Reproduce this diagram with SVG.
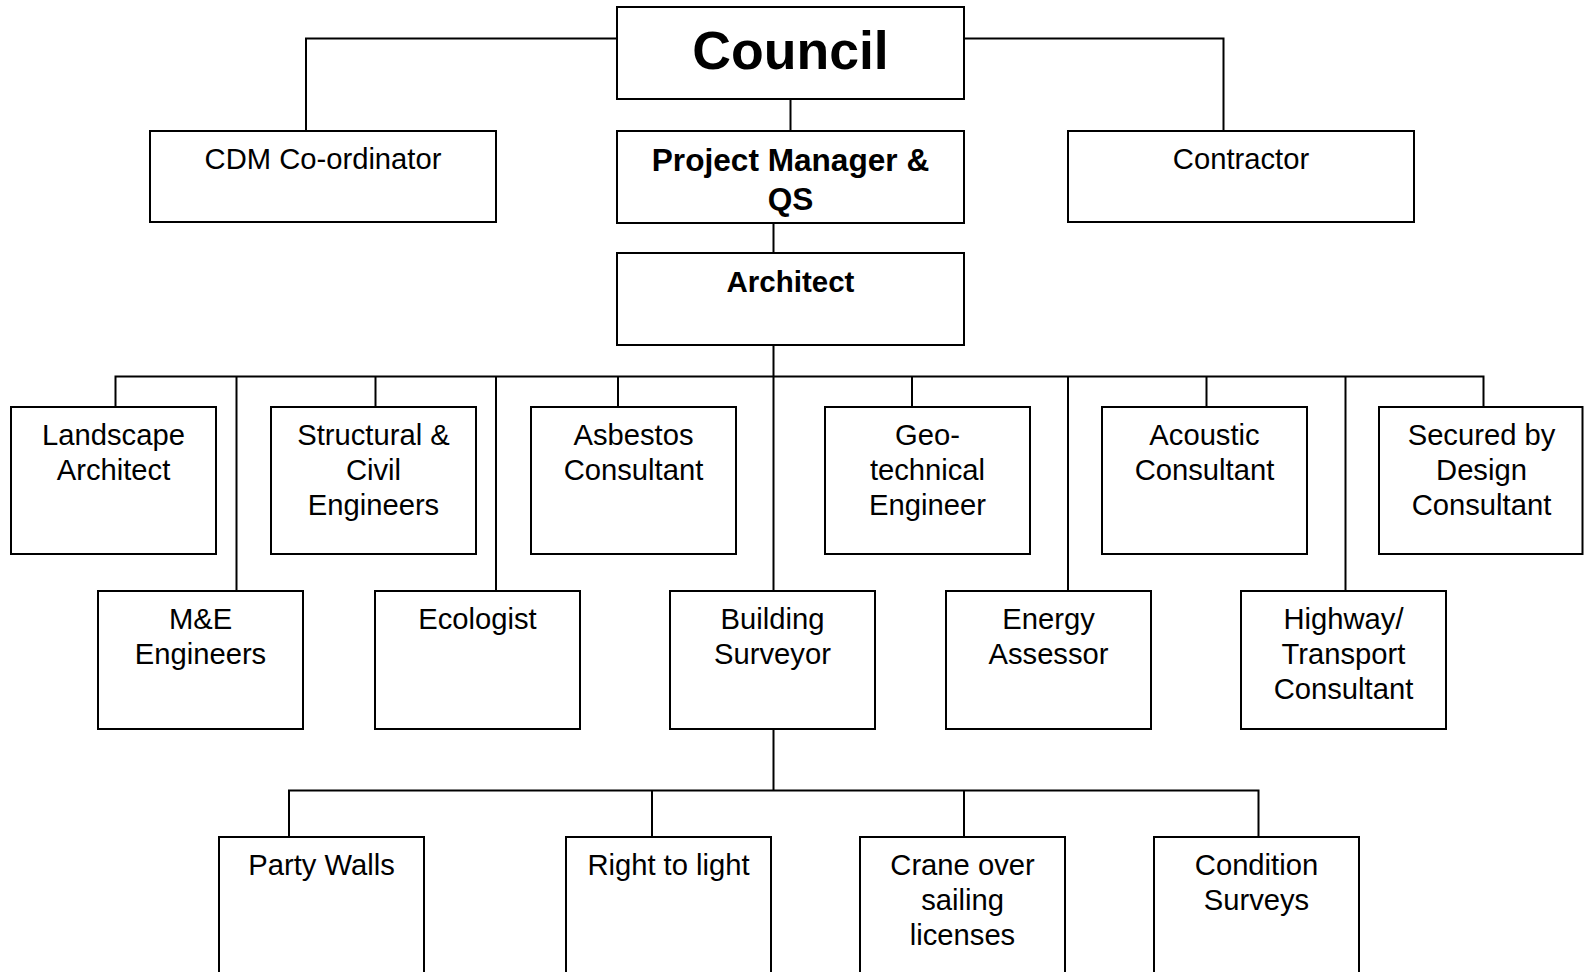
<svg xmlns="http://www.w3.org/2000/svg" width="1584" height="972" viewBox="0 0 1584 972">
<style>
.box{fill:#fff;stroke:#000;stroke-width:2}
.lk{fill:none;stroke:#000;stroke-width:2}
text{font-family:"Liberation Sans",Arial,sans-serif;fill:#000;text-anchor:middle}
.t{font-size:29.2px}
.b{font-weight:bold}
</style>
<rect width="1584" height="972" fill="#fff"/>
<g id="connectors" class="lk">
<path d="M617,38.5 H306 V131"/>
<path d="M964,38.5 H1223.5 V131"/>
<path d="M790.5,99 V131"/>
<path d="M773.5,223 V253"/>
<path d="M773.5,345 V591"/>
<path d="M115.5,407 V376.5 H1483.5 V407"/>
<path d="M375.5,376.5 V407"/>
<path d="M618,376.5 V407"/>
<path d="M912,376.5 V407"/>
<path d="M1206.5,376.5 V407"/>
<path d="M236.5,376.5 V591"/>
<path d="M496,376.5 V591"/>
<path d="M1068,376.5 V591"/>
<path d="M1345.5,376.5 V591"/>
<path d="M773.5,729 V790.5"/>
<path d="M289,837 V790.5 H1258.5 V837"/>
<path d="M652,790.5 V837"/>
<path d="M964,790.5 V837"/>
</g>
<g id="council"><rect class="box" x="617" y="7" width="347" height="92"/><text class="b" x="790.5" y="69" font-size="53.6">Council</text></g>
<g id="cdm"><rect class="box" x="150" y="131" width="346" height="91"/><text class="t" x="323" y="169">CDM Co-ordinator</text></g>
<g id="pm"><rect class="box" x="617" y="131" width="347" height="92"/><text class="b" font-size="31.6" x="790.5" y="171">Project Manager &amp;</text><text class="b" font-size="31.6" x="790.5" y="209.5">QS</text></g>
<g id="contractor"><rect class="box" x="1068" y="131" width="346" height="91"/><text class="t" x="1241" y="169">Contractor</text></g>
<g id="architect"><rect class="box" x="617" y="253" width="347" height="92"/><text class="b" font-size="29.5" x="790.5" y="292">Architect</text></g>
<g id="landscape"><rect class="box" x="11" y="407" width="205" height="147"/><text class="t" x="113.5" y="445">Landscape</text><text class="t" x="113.5" y="480">Architect</text></g>
<g id="structural"><rect class="box" x="271" y="407" width="205" height="147"/><text class="t" x="373.5" y="445">Structural &amp;</text><text class="t" x="373.5" y="480">Civil</text><text class="t" x="373.5" y="515">Engineers</text></g>
<g id="asbestos"><rect class="box" x="531" y="407" width="205" height="147"/><text class="t" x="633.5" y="445">Asbestos</text><text class="t" x="633.5" y="480">Consultant</text></g>
<g id="geo"><rect class="box" x="825" y="407" width="205" height="147"/><text class="t" x="927.5" y="445">Geo-</text><text class="t" x="927.5" y="480">technical</text><text class="t" x="927.5" y="515">Engineer</text></g>
<g id="acoustic"><rect class="box" x="1102" y="407" width="205" height="147"/><text class="t" x="1204.5" y="445">Acoustic</text><text class="t" x="1204.5" y="480">Consultant</text></g>
<g id="secured"><rect class="box" x="1379" y="407" width="203.5" height="147"/><text class="t" x="1481.5" y="445">Secured by</text><text class="t" x="1481.5" y="480">Design</text><text class="t" x="1481.5" y="515">Consultant</text></g>
<g id="me"><rect class="box" x="98" y="591" width="205" height="138"/><text class="t" x="200.5" y="629">M&amp;E</text><text class="t" x="200.5" y="664">Engineers</text></g>
<g id="ecologist"><rect class="box" x="375" y="591" width="205" height="138"/><text class="t" x="477.5" y="629">Ecologist</text></g>
<g id="surveyor"><rect class="box" x="670" y="591" width="205" height="138"/><text class="t" x="772.5" y="629">Building</text><text class="t" x="772.5" y="664">Surveyor</text></g>
<g id="energy"><rect class="box" x="946" y="591" width="205" height="138"/><text class="t" x="1048.5" y="629">Energy</text><text class="t" x="1048.5" y="664">Assessor</text></g>
<g id="highway"><rect class="box" x="1241" y="591" width="205" height="138"/><text class="t" x="1343.5" y="629">Highway/</text><text class="t" x="1343.5" y="664">Transport</text><text class="t" x="1343.5" y="699">Consultant</text></g>
<g id="party"><rect class="box" x="219" y="837" width="205" height="200"/><text class="t" x="321.5" y="875">Party Walls</text></g>
<g id="light"><rect class="box" x="566" y="837" width="205" height="200"/><text class="t" x="668.5" y="875">Right to light</text></g>
<g id="crane"><rect class="box" x="860" y="837" width="205" height="200"/><text class="t" x="962.5" y="875">Crane over</text><text class="t" x="962.5" y="910">sailing</text><text class="t" x="962.5" y="945">licenses</text></g>
<g id="condition"><rect class="box" x="1154" y="837" width="205" height="200"/><text class="t" x="1256.5" y="875">Condition</text><text class="t" x="1256.5" y="910">Surveys</text></g>
</svg>
